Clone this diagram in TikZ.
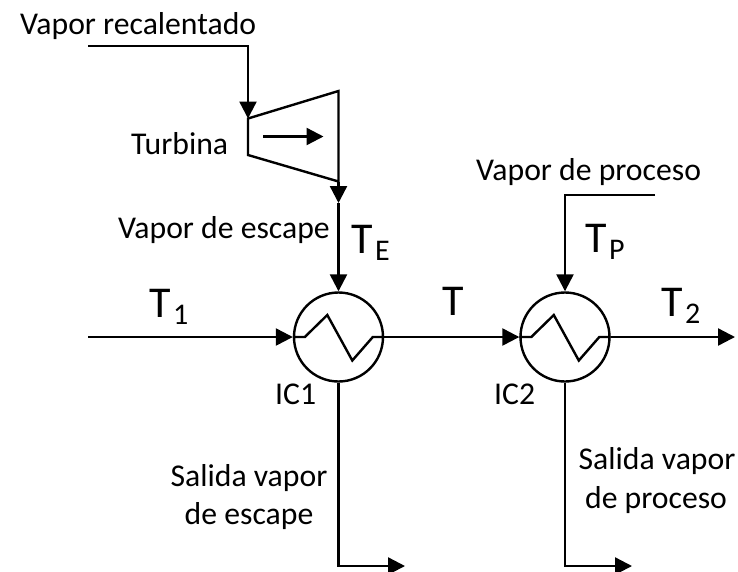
\documentclass[tikz,border=0pt]{standalone}
\usepackage{fontspec}
\setmainfont{Carlito}
\usetikzlibrary{arrows.meta}
\newcommand{\tsub}[1]{T\kern2.5pt\raisebox{-7pt}{\fontsize{30}{34}\selectfont #1}}
\tikzset{
  x=1pt,y=-1pt,
  pipe/.style={line width=2.4pt,line join=miter},
  flow/.style={pipe,-{Triangle[length=17pt,width=17pt]}},
  hx/.style={circle,draw,line width=2.4pt,minimum size=89pt,inner sep=0pt},
  lab/.style={inner sep=0pt,font=\fontsize{31.7}{36}\selectfont,align=center},
  big/.style={inner sep=0pt,font=\fontsize{44}{48}\selectfont},
}
\begin{document}
\begin{tikzpicture}
\useasboundingbox (0,0) rectangle (738,571);
\node[hx] (ic1) at (338.5,337) {};
\node[hx] (ic2) at (565,337) {};
\coordinate (rs) at (88,46);
\coordinate (rc) at (248,46);
\coordinate (ti) at (248,118.5);
\coordinate (tt) at (338.5,91);
\coordinate (to) at (338.5,181.5);
\coordinate (tb) at (248,155);
\coordinate (te) at (338.5,203);
\coordinate (as) at (263,136.5);
\coordinate (ae) at (323.5,136.5);
\coordinate (in) at (88,337);
\coordinate (out) at (735,337);
\coordinate (ps) at (655,195);
\coordinate (pc) at (565,195);
\coordinate (d1) at (338.5,566);
\coordinate (e1) at (405,566);
\coordinate (d2) at (565,566);
\coordinate (e2) at (632,566);
\draw[flow] (rs) -- (rc) -- (ti);
\draw[pipe] (ti) -- (tt) -- (to) -- (tb) -- cycle;
\draw[flow] (as) -- (ae);
\draw[flow] (to) -- (te);
\draw[flow] (te) -- (ic1.north);
\draw[flow] (in) -- (ic1.west);
\draw[flow] (ic1.east) -- (ic2.west);
\draw[flow] (ic2.east) -- (out);
\draw[flow] (ps) -- (pc) -- (ic2.north);
\draw[flow] (ic1.south) -- (d1) -- (e1);
\draw[flow] (ic2.south) -- (d2) -- (e2);
\foreach \c in {ic1,ic2}{
  \draw[pipe] (\c.west) -- ++(12,0) -- ++(22.5,-22) -- ++(25,45.5) -- ++(20.5,-23.5) -- (\c.east);
}
\node[lab,anchor=base west] (t0) at (20,34) {Vapor recalentado};
\node[lab,anchor=base west] (t1) at (131,154) {Turbina};
\node[lab,anchor=base west] (t2) at (118,238) {Vapor de escape};
\node[lab,anchor=base west] (t3) at (476,180) {Vapor de proceso};
\node[lab,anchor=base west] (t4) at (275,404) {IC1};
\node[lab,anchor=base west] (t5) at (494,404) {IC2};
\node[lab,anchor=base] (t6a) at (249,486) {Salida vapor};
\node[lab,anchor=base] (t6b) at (249,524) {de escape};
\node[lab,anchor=base] (t7a) at (657,469) {Salida vapor};
\node[lab,anchor=base] (t7b) at (656,508) {de proceso};
\node[big,anchor=base west] (b1) at (351,253) {\tsub{E}};
\node[big,anchor=base west] (b2) at (149,317) {\tsub{1}};
\node[big,anchor=base west] (b3) at (442,315) {T};
\node[big,anchor=base west] (b4) at (585,252) {\tsub{P}};
\node[big,anchor=base west] (b5) at (661,316) {\tsub{2}};
\end{tikzpicture}
\end{document}
